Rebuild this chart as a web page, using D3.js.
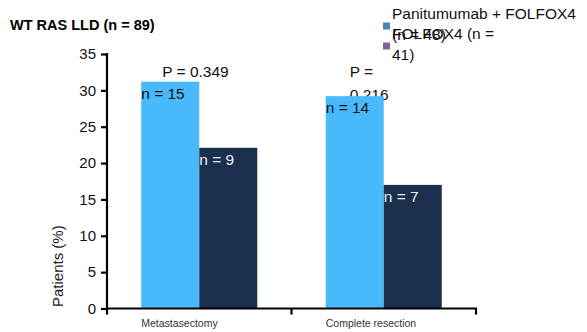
<!DOCTYPE html>
<html><head><meta charset="utf-8">
<script src="https://cdn.jsdelivr.net/npm/d3@7"></script>
<style>body{margin:0;background:#fff}svg{display:block;font-family:"Liberation Sans",Arial,sans-serif}</style>
</head><body><svg id="c" width="587" height="332"></svg>
<script>
const title = "WT RAS LLD (n = 89)";
const categories = ["Metastasectomy", "Complete resection"];
const seriesNames = ["Panitumumab + FOLFOX4 (n = 48)", "FOLFOX4 (n = 41)"];
const panitumumab = [31.2, 29.2];
const folfox = [22.1, 17.0];
const panitumumabN = ["n = 15", "n = 14"];
const folfoxN = ["n = 9", "n = 7"];
const pValues = ["P = 0.349", "P = 0.216"];
const yTicks = [0, 5, 10, 15, 20, 25, 30, 35];
const yLabel = "Patients (%)";

const svg = d3.select("#c");
const x0 = 107, x1 = 476, yTop = 54, yBot = 308.5;
const x = d3.scaleBand().domain(categories).range([x0, x1]).paddingInner(0).paddingOuter(0);
const inner = d3.scaleBand().domain([0, 1]).range([0, x.bandwidth()]).paddingInner(0).paddingOuter(0.59);
const y = d3.scaleLinear().domain([0, 35]).range([yBot, yTop]);
const blue = "#48BAFC", dark = "#1B2F4E";

// title
svg.append("text").attr("x", 10).attr("y", 30).attr("font-size", 14.5).attr("font-weight", "bold").attr("fill", "#000").text(title);

// P values (drawn behind bars)
const pAt = [{cat: categories[0], dx: 21, lines: [pValues[0]]},
             {cat: categories[1], dx: 24, lines: ["P =", pValues[1].replace("P = ", "")]}];
pAt.forEach(p => {
  const t = svg.append("text").attr("font-size", 15.5).attr("fill", "#111");
  p.lines.forEach((l, i) => t.append("tspan").attr("x", x(p.cat) + inner(0) + p.dx).attr("y", 77 + i * 23).text(l));
});

// bars
const data = categories.map((c, i) => ({c, v: [panitumumab[i], folfox[i]], n: [panitumumabN[i], folfoxN[i]]}));
const g = svg.selectAll("g.cat").data(data).join("g").attr("transform", d => `translate(${x(d.c)},0)`);
g.selectAll("rect").data(d => d.v.map((v, k) => ({v, k}))).join("rect")
  .attr("x", d => inner(d.k)).attr("width", inner.bandwidth())
  .attr("y", d => y(d.v)).attr("height", d => y(0) - y(d.v))
  .attr("fill", d => d.k === 0 ? blue : dark);
g.selectAll("text.n").data(d => d.v.map((v, k) => ({v, k, n: d.n[k]}))).join("text").attr("class", "n")
  .attr("x", d => inner(d.k)).attr("y", d => y(d.v) + 17)
  .attr("font-size", 15.5).attr("fill", d => d.k === 0 ? "#111" : "#eee").text(d => d.n);

// y axis
const yAxis = d3.axisLeft(y).tickValues(yTicks).tickSize(6).tickPadding(5).tickSizeOuter(0);
const ya = svg.append("g").attr("transform", `translate(${x0},0)`).call(yAxis);
ya.select(".domain").attr("stroke", "#000").attr("stroke-width", 2.2).attr("d", `M0,${yTop - 1}V${yBot + 1.5}`);
ya.selectAll(".tick line").attr("stroke", "#000").attr("stroke-width", 2.2);
ya.selectAll(".tick text").attr("font-size", 15).attr("fill", "#111").attr("font-family", "Liberation Sans, Arial, sans-serif");

// x axis
const xa = svg.append("g").attr("transform", `translate(0,${yBot})`);
xa.append("line").attr("x1", x0 - 1).attr("x2", x1 + 1).attr("stroke", "#000").attr("stroke-width", 2.2);
const bounds = [x0, x(categories[1]), x1];
xa.selectAll("line.t").data(bounds).join("line").attr("class", "t")
  .attr("x1", d => d).attr("x2", d => d).attr("y1", 0).attr("y2", 6).attr("stroke", "#000").attr("stroke-width", 2.2);
xa.selectAll("text").data(categories).join("text")
  .attr("x", d => x(d) + inner(0)).attr("y", 18.5).attr("font-size", 10.5).attr("fill", "#333").text(d => d);

// y label
svg.append("text").attr("transform", "translate(63,307) rotate(-90)").attr("font-size", 15).attr("fill", "#222").text(yLabel);

// legend (wrapped as in original)
const legend = [
  {color: "#4F81BD", lines: ["Panitumumab + FOLFOX4", "(n = 48)"], y: 19},
  {color: "#8064A2", lines: ["FOLFOX4 (n =", "41)"], y: 39}
];
legend.forEach(l => {
  svg.append("rect").attr("x", 383).attr("y", l.y + 3.5).attr("width", 7).attr("height", 7).attr("fill", l.color);
  const t = svg.append("text").attr("font-size", 15.5).attr("fill", "#111");
  l.lines.forEach((s, i) => t.append("tspan").attr("x", 392).attr("y", l.y + i * 20.5).text(s));
});
</script></body></html>
